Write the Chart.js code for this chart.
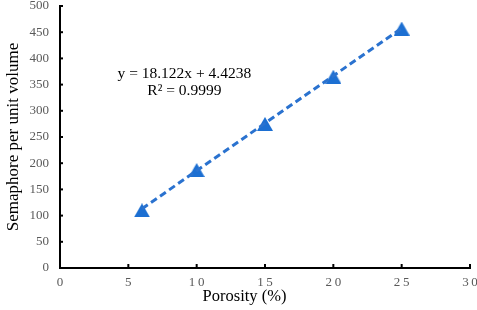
<!DOCTYPE html>
<html><head><meta charset="utf-8">
<script src="https://cdn.jsdelivr.net/npm/chart.js@4/dist/chart.umd.min.js"></script>
<style>html,body{margin:0;padding:0;background:#fff;}canvas{display:block;}</style>
</head><body>
<canvas id="c" width="477" height="310"></canvas>
<script>
const porosity = [6, 10, 15, 20, 25];
const semaphore = [110, 187, 275, 365, 457];
const trendSlope = 18.122;
const trendIntercept = 4.4238;
const trendRange = [6, 25];
const equationLines = ['y = 18.122x + 4.4238', 'R\u00b2 = 0.9999'];
const xTitle = 'Porosity (%)';
const yTitle = 'Semaphore per unit volume';

const trendData = trendRange.map(x => ({x: x, y: trendSlope * x + trendIntercept}));
const pointData = porosity.map((x, i) => ({x: x, y: semaphore[i]}));

const SERIF = '"Liberation Serif", "Times New Roman", serif';

// triangle marker centred on its bounding box (like the original)
const tri = document.createElement('canvas');
tri.width = 16; tri.height = 14;
(function () {
  const g = tri.getContext('2d');
  g.fillStyle = '#1c6fd2';
  g.beginPath(); g.moveTo(0, 14); g.lineTo(8, 0); g.lineTo(16, 14); g.closePath(); g.fill();
})();

const extras = {
  id: 'extras',
  afterDraw(chart) {
    const ctx = chart.ctx, xs = chart.scales.x, ys = chart.scales.y;
    ctx.save();
    ctx.strokeStyle = '#000'; ctx.lineWidth = 2;
    const yb = ys.getPixelForValue(0), xl = xs.getPixelForValue(0);
    for (let v = 5; v <= 30; v += 5) {
      const px = xs.getPixelForValue(v);
      ctx.beginPath(); ctx.moveTo(px, yb); ctx.lineTo(px, yb - 4); ctx.stroke();
    }
    for (let v = 50; v <= 500; v += 50) {
      const py = ys.getPixelForValue(v);
      ctx.beginPath(); ctx.moveTo(xl, py); ctx.lineTo(xl + 3, py); ctx.stroke();
    }
    ctx.fillStyle = '#000';
    ctx.font = '15.5px ' + SERIF;
    ctx.textAlign = 'center'; ctx.textBaseline = 'middle';
    const cx = xs.getPixelForValue(9.1);
    ctx.fillText(equationLines[0], cx, ys.getPixelForValue(371));
    ctx.fillText(equationLines[1], cx, ys.getPixelForValue(338));
    ctx.font = '16.5px ' + SERIF;
    ctx.fillText(xTitle, xs.getPixelForValue(13.5), 297);
    ctx.restore();
  }
};

new Chart(document.getElementById('c'), {
  type: 'scatter',
  data: {
    datasets: [
      {
        data: trendData, showLine: true, borderColor: '#2a72cf', borderWidth: 3,
        borderDash: [7, 4], pointRadius: 0, fill: false
      },
      {
        data: pointData, pointStyle: tri, pointRadius: 8
      }
    ]
  },
  options: {
    responsive: false, animation: false,
    layout: {autoPadding: false, padding: {top: 0, right: 0, left: 0, bottom: 0}},
    plugins: {legend: {display: false}, tooltip: {enabled: false}},
    scales: {
      x: {
        type: 'linear', min: 0, max: 30,
        afterFit: s => { s.height = 42; s.paddingLeft = 0; s.paddingRight = 7; },
        ticks: {stepSize: 5, color: '#595959', padding: 7,
          font: {family: SERIF, size: 13},
          callback: v => String(v).split('').join('\u2009')},
        grid: {display: false, drawTicks: false},
        border: {display: true, color: '#000', width: 2}
      },
      y: {
        type: 'linear', min: 0, max: 500,
        afterFit: s => { s.width = 60; s.paddingTop = 6; s.paddingBottom = 0; },
        ticks: {stepSize: 50, color: '#595959', padding: 11,
          font: {family: SERIF, size: 13}},
        grid: {display: false, drawTicks: false},
        border: {display: true, color: '#000', width: 2},
        title: {display: true, text: yTitle, color: '#000', padding: {top: 3, bottom: 0},
          font: {family: SERIF, size: 17}}
      }
    }
  },
  plugins: [extras]
});
</script>
</body></html>
